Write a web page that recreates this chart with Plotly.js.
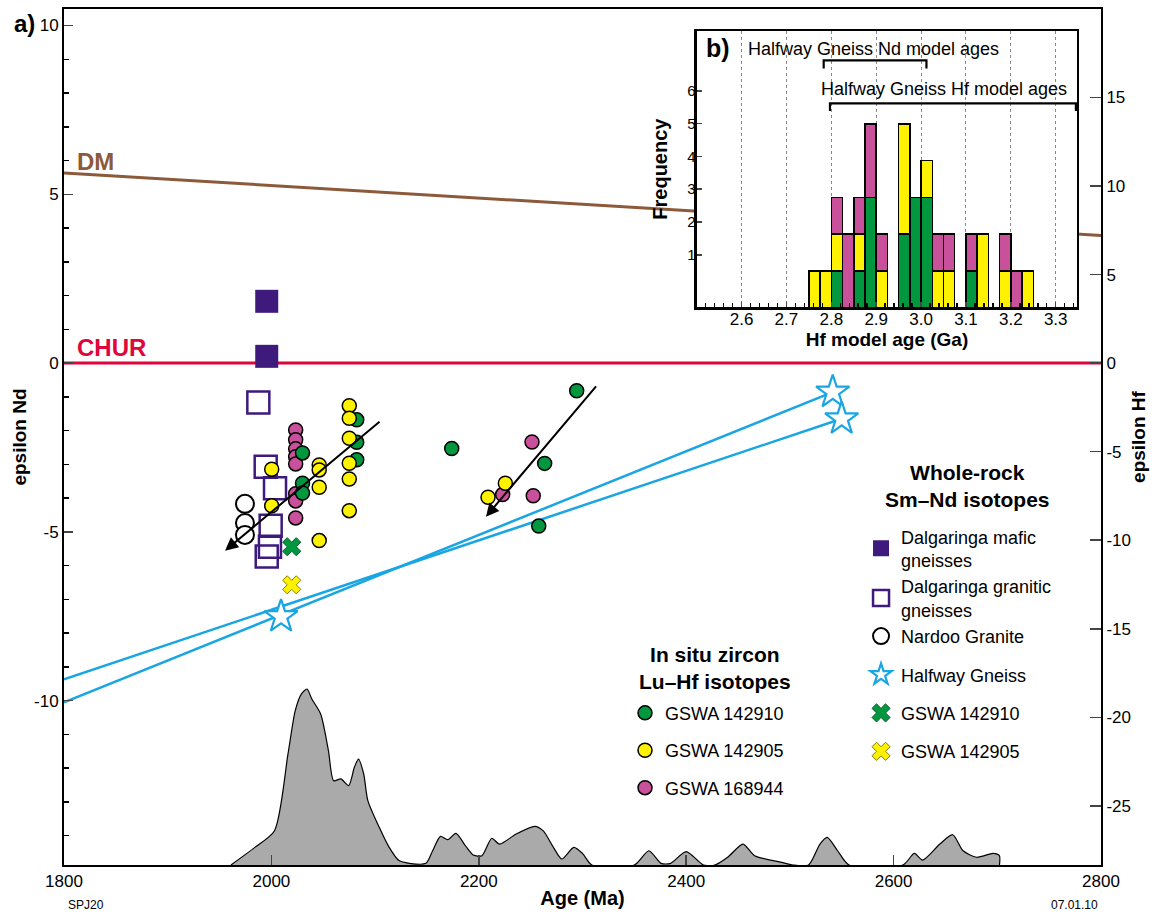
<!DOCTYPE html>
<html><head><meta charset="utf-8">
<script src="https://cdn.plot.ly/plotly-3.0.1.min.js"></script>
<style>html,body{margin:0;padding:0;background:#fff}#chart{width:1163px;height:915px}</style>
</head><body><div id="chart"></div>
<script>
// ---------------- data ----------------
// Whole-rock Sm-Nd (epsilon Nd, left axis)
const maficAge = [1995.5, 1995.5];
const maficNd = [1.83, 0.20];
const graniticAge = [1987.4, 1994.5, 2003.5, 1999.3, 1998.6, 1995.5];
const graniticNd = [-1.17, -3.07, -3.71, -4.82, -5.44, -5.73];
const nardooAge = [1974.5, 1974.5, 1974.5];
const nardooNd = [-4.17, -4.74, -5.09];
const halfwayAge = [2009.3, 2541.3, 2549.9];
const halfwayNd = [-7.51, -0.86, -1.65];
const halfwayLineAAge = [1800, 2549.9];
const halfwayLineANd = [-9.37, -1.65];
const halfwayLineBAge = [1800, 2541.3];
const halfwayLineBNd = [-10.05, -0.86];
const wr142910Age = [2019.6];
const wr142910Nd = [-5.44];
const wr142905Age = [2019.6];
const wr142905Nd = [-6.57];
// Reference evolution lines
const refAge = [1800, 2800];
const dmNd = [5.63, 3.78];
const churNd = [0, 0];
// In situ zircon Lu-Hf (epsilon Hf, right axis)
const hf142910Age = [2082.3, 2082.3, 2082.3, 2030, 2030, 2030, 2294.4, 2173.9, 2263.5, 2257.8];
const hf142910 = [-3.20, -4.47, -5.46, -5.07, -6.78, -7.33, -1.56, -4.82, -5.66, -9.20];
const hf142905Age = [2075.1, 2075.1, 2075.1, 2075.1, 2075.1, 2075.1, 2046.1, 2046.1, 2046.1, 2046.1, 2000.3, 2000.3, 2225.6, 2208.9];
const hf142905 = [-2.40, -3.11, -4.24, -5.65, -6.54, -8.33, -5.75, -6.03, -7.01, -10.02, -5.99, -8.05, -6.78, -7.57];
const hf168944Age = [2023.4, 2023.4, 2023.4, 2023.4, 2023.4, 2023.4, 2023.4, 2023.4, 2251.3, 2223.0, 2252.5];
const hf168944 = [-3.77, -4.33, -4.84, -5.29, -5.69, -7.38, -7.78, -8.74, -4.45, -7.42, -7.49];
// trend arrows [tailAge, tailHf, headAge, headHf]
const arrow1 = [2105.7, -3.24, 1955.3, -10.59];
const arrow2 = [2314.3, -1.23, 2206.9, -8.67];
// U-Pb age probability curve (relative)
const kdeAge = [1961, 1984, 2003, 2016, 2023, 2029, 2034.4, 2039, 2047.5, 2055, 2060, 2067, 2074.5, 2080, 2084, 2089, 2093, 2104, 2113.6, 2123, 2133, 2149, 2155.5, 2163, 2170, 2178, 2187, 2194.6, 2203, 2212.5, 2220, 2236, 2254, 2262, 2272, 2280, 2291.6, 2300, 2309, 2350, 2364, 2375.7, 2385, 2400, 2416.6, 2427.6, 2440, 2454.8, 2466, 2492, 2503, 2518, 2529, 2536, 2546, 2557, 2609, 2620, 2628, 2644.6, 2657, 2667, 2680, 2696, 2702, 2702.1];
const kdeRel = [0, 0.100, 0.195, 0.631, 0.877, 0.972, 1.0, 0.943, 0.858, 0.650, 0.479, 0.489, 0.451, 0.555, 0.602, 0.517, 0.366, 0.214, 0.100, 0.025, 0.0095, 0.0095, 0.081, 0.163, 0.144, 0.180, 0.110, 0.057, 0.053, 0.152, 0.119, 0.176, 0.220, 0.195, 0.100, 0.034, 0.100, 0.066, 0, 0, 0.081, 0.0095, 0.0095, 0.076, 0, 0, 0.044, 0.119, 0.053, 0.015, 0, 0, 0.119, 0.157, 0.081, 0, 0, 0.066, 0.028, 0.119, 0.172, 0.081, 0.044, 0.066, 0.053, 0];
// Inset histogram: Hf model ages (Ga), stacked counts per 0.025 Ga bin
const binCenter = [2.7625, 2.7875, 2.8125, 2.8375, 2.8625, 2.8875, 2.9125, 2.9625, 2.9875, 3.0125, 3.0375, 3.0625, 3.1125, 3.1375, 3.1875, 3.2125, 3.2375];
const cnt142910 = [0, 0, 1, 0, 1, 3, 0, 2, 3, 3, 0, 0, 1, 0, 0, 0, 0];
const cnt142905 = [1, 1, 1, 0, 1, 0, 1, 3, 0, 1, 1, 1, 0, 2, 1, 0, 1];
const cnt168944 = [0, 0, 1, 2, 1, 2, 1, 0, 0, 0, 1, 1, 1, 0, 1, 1, 0];
const ndModelRange = [2.783, 3.012];
const hfModelRange = [2.797, 3.345];
// tick labels
const ageTicks = [1800, 2000, 2200, 2400, 2600, 2800];
const ndTicks = [-10, -5, 0, 5, 10];
const hfTicks = [-25, -20, -15, -10, -5, 0, 5, 10, 15];
const insetTicks = [2.6, 2.7, 2.8, 2.9, 3.0, 3.1, 3.2, 3.3];
const freqTicks = [1, 2, 3, 4, 5, 6];

// ---------------- styling ----------------
const FONT = 'Liberation Sans, Arial, Helvetica, sans-serif';
const C = {green:'#00973f', yellow:'#fff200', magenta:'#c9509a', purple:'#3d1a7c', blue:'#1aa5e3', dm:'#8c5a3a', chur:'#e0053c', gray:'#aaaaaa'};
const lbl = a => a.map(v => String(v));

const traces = [];
// density curve
traces.push({x:kdeAge, y:kdeRel, yaxis:'y3', type:'scatter', mode:'lines', fill:'tozeroy',
  fillcolor:C.gray, line:{color:'#000', width:1.2, shape:'spline', smoothing:0.7}, showlegend:false, hoverinfo:'skip'});
// reference lines
traces.push({x:refAge, y:dmNd, mode:'lines', line:{color:C.dm, width:3}, showlegend:false});
traces.push({x:refAge, y:churNd, mode:'lines', line:{color:C.chur, width:3}, showlegend:false});
traces.push({x:halfwayLineAAge, y:halfwayLineANd, mode:'lines', line:{color:C.blue, width:2.5}, showlegend:false});
traces.push({x:halfwayLineBAge, y:halfwayLineBNd, mode:'lines', line:{color:C.blue, width:2.5}, showlegend:false});
// whole rock
traces.push({x:maficAge, y:maficNd, mode:'markers', name:'Dalgaringa mafic<br>gneisses', legend:'legend', legendgroup:'dalg', legendrank:1,
  marker:{symbol:'square', size:23, color:C.purple, line:{width:0}}});
traces.push({x:graniticAge, y:graniticNd, mode:'markers', name:'Dalgaringa granitic<br>gneisses', legend:'legend', legendgroup:'dalg', legendrank:2,
  marker:{symbol:'square-open', size:22, color:C.purple, line:{width:2.5, color:C.purple}}});
traces.push({x:nardooAge, y:nardooNd, mode:'markers', name:'Nardoo Granite', legend:'legend', legendgroup:'dalg', legendrank:3,
  marker:{symbol:'circle', size:18, color:'#fff', line:{width:2, color:'#000'}}});
traces.push({x:halfwayAge, y:halfwayNd, mode:'markers', name:'Halfway Gneiss', legend:'legend', legendgroup:'hw', legendrank:4,
  marker:{symbol:'star', size:25, color:'#fff', line:{width:2.2, color:C.blue}}});
traces.push({x:wr142910Age, y:wr142910Nd, mode:'markers', name:'GSWA 142910', legend:'legend', legendgroup:'x1', legendrank:5,
  marker:{symbol:'x', size:16, color:C.green, line:{width:1, color:'#0b5e2a'}}});
traces.push({x:wr142905Age, y:wr142905Nd, mode:'markers', name:'GSWA 142905', legend:'legend', legendgroup:'x2', legendrank:6,
  marker:{symbol:'x', size:16, color:C.yellow, line:{width:1, color:'#8a7d00'}}});
// zircon Hf (right axis)
const circ = col => ({symbol:'circle', size:14, color:col, line:{width:1.5, color:'#000'}});
traces.push({x:hf168944Age, y:hf168944, yaxis:'y2', mode:'markers', name:'GSWA 168944', legend:'legend2', legendgroup:'h3', legendrank:3, marker:circ(C.magenta)});
traces.push({x:hf142910Age, y:hf142910, yaxis:'y2', mode:'markers', name:'GSWA 142910', legend:'legend2', legendgroup:'h1', legendrank:1, marker:circ(C.green)});
traces.push({x:hf142905Age, y:hf142905, yaxis:'y2', mode:'markers', name:'GSWA 142905', legend:'legend2', legendgroup:'h2', legendrank:2, marker:circ(C.yellow)});
// inset histogram
const barLine = {color:'#000', width:1.5};
[[cnt142910, C.green], [cnt142905, C.yellow], [cnt168944, C.magenta]].forEach(([c, col]) => {
  traces.push({type:'bar', x:binCenter, y:c, width:0.025, xaxis:'x2', yaxis:'y4', marker:{color:col, line:barLine}, showlegend:false, hoverinfo:'skip'});
});
// invisible trace to activate frequency label axis
traces.push({x:[2.5], y:[0], xaxis:'x2', yaxis:'y5', mode:'markers', marker:{opacity:0}, showlegend:false, hoverinfo:'skip'});

const insetX = [0.6101, 0.9771];
const insetY = [0.6513, 0.9746];

const layout = {
  width:1163, height:915,
  margin:{l:64, r:62, t:9, b:50},
  paper_bgcolor:'#fff', plot_bgcolor:'#fff',
  font:{family:FONT, color:'#000', size:17},
  barmode:'stack', bargap:0,
  xaxis:{range:[1800, 2800], tickvals:ageTicks, ticktext:lbl(ageTicks), ticks:'inside', ticklen:10, tickwidth:1.5,
    showline:true, mirror:true, linewidth:2, linecolor:'#000', showgrid:false, zeroline:false,
    tickfont:{size:17}, title:{text:'<b>Age (Ma)</b>', font:{size:20}, standoff:1}},
  yaxis:{range:[-14.87, 10.49], tickvals:ndTicks, ticktext:lbl(ndTicks), ticks:'inside', ticklen:9, tickwidth:1.5,
    minor:{tickmode:'linear', tick0:0, dtick:1, ticks:'inside', ticklen:5, tickwidth:1.5, tickcolor:'#000', showgrid:false},
    showline:true, linewidth:2, linecolor:'#000', showgrid:false, zeroline:false,
    tickfont:{size:17}, title:{text:'<b>epsilon Nd</b>', font:{size:19}, standoff:2}},
  yaxis2:{overlaying:'y', side:'right', anchor:'x', range:[-28.34, 20.0], tickvals:hfTicks, ticktext:lbl(hfTicks),
    ticks:'inside', ticklen:11, tickwidth:1.5, showline:true, linewidth:2, linecolor:'#000', showgrid:false, zeroline:false,
    tickfont:{size:17}, title:{text:'<b>epsilon Hf</b>', font:{size:19}, standoff:2}},
  yaxis3:{overlaying:'y', range:[0, 4.864], visible:false, fixedrange:true},
  xaxis2:{domain:insetX, anchor:'y4', range:[2.5, 3.348], tickvals:insetTicks, ticktext:insetTicks.map(v => v.toFixed(1)),
    ticks:'inside', ticklen:5, tickwidth:1.5, ticklabelstandoff:-5,
    minor:{tickmode:'linear', tick0:2.5, dtick:0.02, ticks:'inside', ticklen:4, tickwidth:1.5, tickcolor:'#000', showgrid:false},
    showgrid:true, gridcolor:'#8a8a8a', griddash:'dot', gridwidth:1,
    showline:true, mirror:true, linewidth:2.2, linecolor:'#000', zeroline:false,
    tickfont:{size:17}, title:{text:'<b>Hf model age (Ga)</b>', font:{size:19}, standoff:0}},
  yaxis4:{domain:insetY, anchor:'x2', range:[0, 7.54], showticklabels:false, ticks:'', showgrid:false, zeroline:false,
    showline:true, mirror:true, linewidth:2.2, linecolor:'#000'},
  yaxis5:{overlaying:'y4', anchor:'x2', side:'left', range:[-0.607, 7.83], tickvals:freqTicks, ticktext:lbl(freqTicks),
    ticks:'inside', ticklen:5, tickwidth:1.5, showgrid:false, zeroline:false, showline:false,
    tickfont:{size:15}, title:{text:'<b>Frequency</b>', font:{size:20}, standoff:14}},
  legend:{x:0.7686, y:0.405, xanchor:'left', yanchor:'top', bgcolor:'rgba(0,0,0,0)', borderwidth:0,
    font:{size:18}, tracegroupgap:12, itemwidth:30, traceorder:'grouped'},
  legend2:{x:0.541, y:0.199, xanchor:'left', yanchor:'top', bgcolor:'rgba(0,0,0,0)', borderwidth:0,
    font:{size:18}, tracegroupgap:11, itemwidth:30, traceorder:'grouped'},
  shapes:[
    {type:'path', xref:'x2', yref:'y4', line:{color:'#000', width:2.2},
      path:`M ${ndModelRange[0]} 6.51 L ${ndModelRange[0]} 6.73 L ${ndModelRange[1]} 6.73 L ${ndModelRange[1]} 6.51`},
    {type:'path', xref:'x2', yref:'y4', line:{color:'#000', width:2.2},
      path:`M ${hfModelRange[0]} 5.35 L ${hfModelRange[0]} 5.56 L ${hfModelRange[1]} 5.56 L ${hfModelRange[1]} 5.35`}
  ],
  annotations:[
    {xref:'paper', yref:'paper', x:-0.0501, y:0.9825, xanchor:'left', yanchor:'middle', showarrow:false, text:'<b>a)</b>', font:{size:24}},
    {xref:'paper', yref:'paper', x:0.6175, y:0.9544, xanchor:'left', yanchor:'middle', showarrow:false, text:'<b>b)</b>', font:{size:25}},
    {xref:'x', yref:'y', x:1810.6, y:5.97, xanchor:'left', yanchor:'middle', showarrow:false, text:'<b>DM</b>', font:{size:24, color:C.dm}},
    {xref:'x', yref:'y', x:1811, y:0.45, xanchor:'left', yanchor:'middle', showarrow:false, text:'<b>CHUR</b>', font:{size:24, color:C.chur}},
    {xref:'x2', yref:'y4', x:2.610, y:7.05, xanchor:'left', yanchor:'middle', showarrow:false, text:'Halfway Gneiss Nd model ages', font:{size:18}},
    {xref:'x2', yref:'y4', x:2.773, y:5.96, xanchor:'left', yanchor:'middle', showarrow:false, text:'Halfway Gneiss Hf model ages', font:{size:18}},
    {xref:'paper', yref:'paper', x:0.8717, y:0.4433, xanchor:'center', yanchor:'middle', align:'center', showarrow:false,
      text:'<b>Whole-rock<br>Sm–Nd isotopes</b>', font:{size:21}},
    {xref:'paper', yref:'paper', x:0.6278, y:0.2296, xanchor:'center', yanchor:'middle', align:'center', showarrow:false,
      text:'<b>In situ zircon<br>Lu–Hf isotopes</b>', font:{size:21}},
    {xref:'x', yref:'y2', axref:'x', ayref:'y2', x:arrow1[2], y:arrow1[3], ax:arrow1[0], ay:arrow1[1], text:'', showarrow:true,
      arrowhead:2, arrowsize:1.3, arrowwidth:2, arrowcolor:'#000', standoff:0},
    {xref:'x', yref:'y2', axref:'x', ayref:'y2', x:arrow2[2], y:arrow2[3], ax:arrow2[0], ay:arrow2[1], text:'', showarrow:true,
      arrowhead:2, arrowsize:1.3, arrowwidth:2, arrowcolor:'#000', standoff:0},
    {xref:'paper', yref:'paper', x:0.002, y:-0.0467, xanchor:'left', yanchor:'middle', showarrow:false, text:'SPJ20', font:{size:12}},
    {xref:'paper', yref:'paper', x:0.999, y:-0.0467, xanchor:'right', yanchor:'middle', showarrow:false, text:'07.01.10', font:{size:12}}
  ]
};
Plotly.newPlot('chart', traces, layout, {displayModeBar:false, staticPlot:true});
</script></body></html>
